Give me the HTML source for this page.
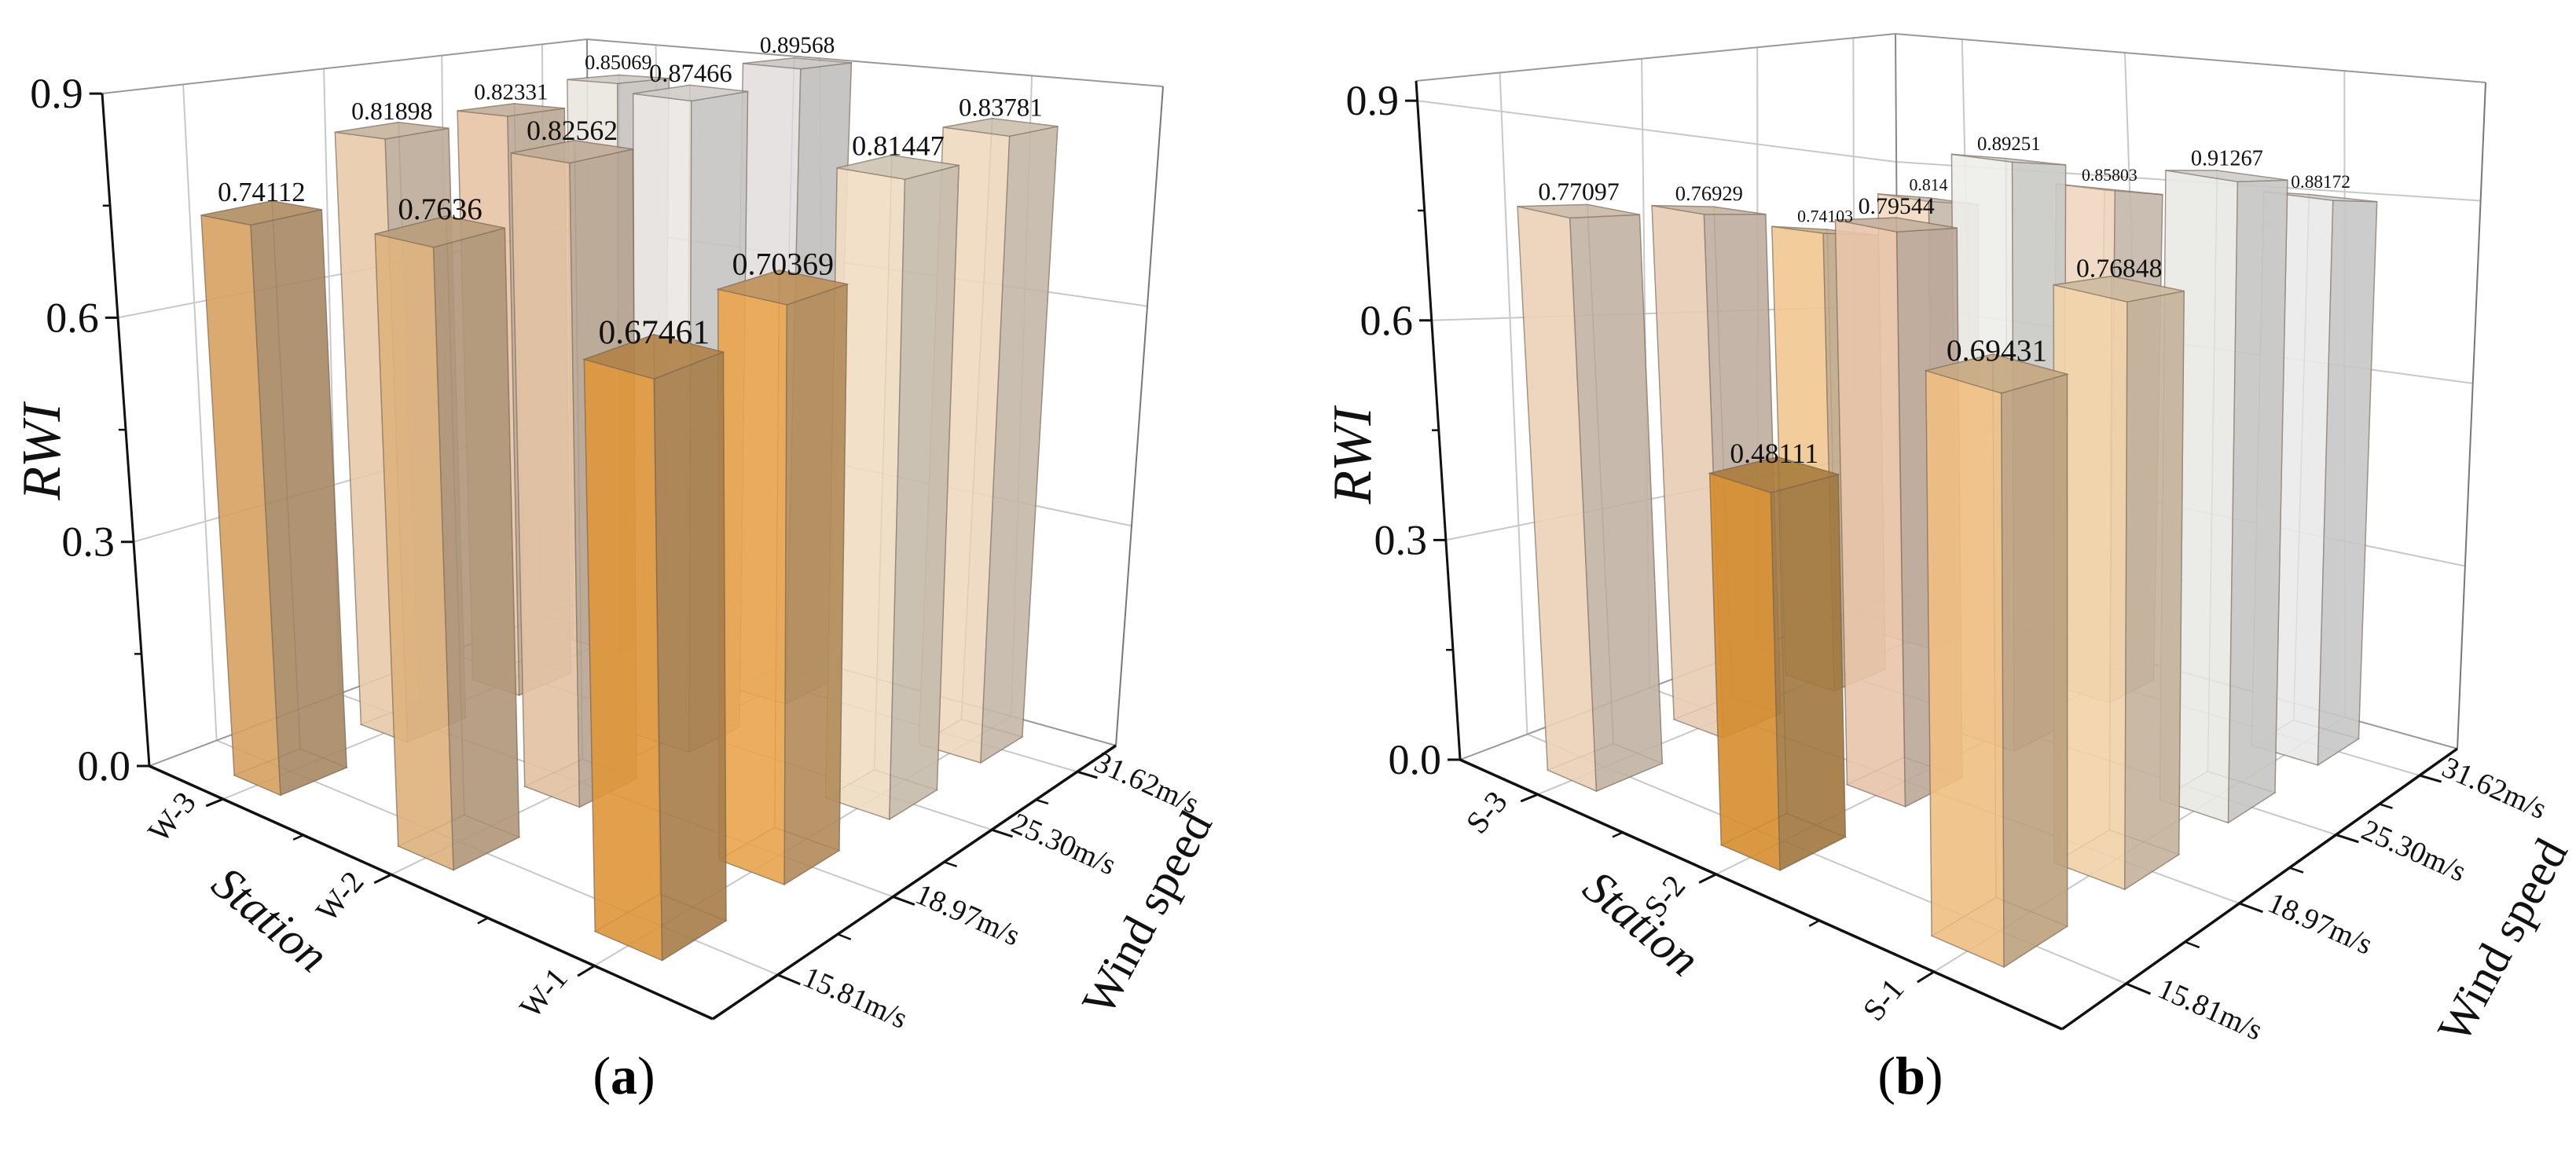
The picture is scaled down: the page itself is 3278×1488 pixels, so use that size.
<!DOCTYPE html>
<html><head><meta charset="utf-8">
<style>
html,body{margin:0;padding:0;background:#fff;}
svg{display:block;font-family:"Liberation Serif",serif;}
</style></head>
<body>
<svg id="fig" width="3278" height="1488" viewBox="0 0 3278 1488" xmlns="http://www.w3.org/2000/svg">
<rect x="0" y="0" width="3278" height="1488" fill="#fff"/>
<g id="chartA"></g>
<g id="chartB"></g>
<text x="794" y="1392" font-size="68" text-anchor="middle">(<tspan font-weight="bold">a</tspan>)</text>
<text x="2431" y="1392" font-size="68" text-anchor="middle">(<tspan font-weight="bold">b</tspan>)</text>
</svg>
<script>
// ---- data ----
const windSpeeds = ['15.81m/s','18.97m/s','25.30m/s','31.62m/s'];
const stationsA = ['W-3','W-2','W-1'];
const stationsB = ['S-3','S-2','S-1'];
const yTicks = [0.0,0.3,0.6,0.9];
const yTickLabels = ['0.0','0.3','0.6','0.9'];
// RWI values, one array per station, ordered by wind speed
const rwiW3 = [0.74112,0.81898,0.82331,0.85069];
const rwiW2 = [0.7636,0.82562,0.87466,0.89568];
const rwiW1 = [0.67461,0.70369,0.81447,0.83781];
const rwiS3 = [0.77097,0.76929,0.74103,0.814];
const rwiS2 = [0.48111,0.79544,0.89251,0.85803];
const rwiS1 = [0.69431,0.76848,0.91267,0.88172];
const labelsW3 = ['0.74112','0.81898','0.82331','0.85069'];
const labelsW2 = ['0.7636','0.82562','0.87466','0.89568'];
const labelsW1 = ['0.67461','0.70369','0.81447','0.83781'];
const labelsS3 = ['0.77097','0.76929','0.74103','0.814'];
const labelsS2 = ['0.48111','0.79544','0.89251','0.85803'];
const labelsS1 = ['0.69431','0.76848','0.91267','0.88172'];

// ---- styles (colours per bar) ----
const colA = [
  ['#d9a262','#e9cbac','#e8c6a6','#ece6e0'],
  ['#dfb37e','#e4c3a3','#ebe8e4','#e4e0e0'],
  ['#e0973a','#eca64e','#f1dec3','#f0d9bf']];
const colB = [
  ['#eed3b8','#e9cdb4','#f2c991','#f0dac3'],
  ['#d98f2e','#e9c6ab','#eeeeea','#f0d7c1'],
  ['#f1c083','#f4d4aa','#eaece7','#ecebec']];

const NS='http://www.w3.org/2000/svg';
function mk(tag, attrs, parent){const e=document.createElementNS(NS,tag);for(const k in attrs)e.setAttribute(k,attrs[k]);parent.appendChild(e);return e;}

function homography(q){ // q: [L(0,0),F(1,0),R(1,1),B(0,1)]
  const [x0,y0]=q[0],[x1,y1]=q[1],[x2,y2]=q[2],[x3,y3]=q[3];
  const dx1=x1-x2,dx2=x3-x2,dx3=x0-x1+x2-x3,dy1=y1-y2,dy2=y3-y2,dy3=y0-y1+y2-y3;
  const det=dx1*dy2-dx2*dy1;
  const g=(dx3*dy2-dx2*dy3)/det,h=(dx1*dy3-dx3*dy1)/det;
  const a=x1-x0+g*x1,b=x3-x0+h*x3,c=x0,d=y1-y0+g*y1,e=y3-y0+h*y3,f=y0;
  return (u,v)=>{const w=g*u+h*v+1;return [(a*u+b*v+c)/w,(d*u+e*v+f)/w];};
}
function shade(hex,k,gray){const n=parseInt(hex.slice(1),16);let r=n>>16,g=(n>>8)&255,b=n&255;
  const m=(r+g+b)/3;r=r*(1-gray)+m*gray;g=g*(1-gray)+m*gray;b=b*(1-gray)+m*gray;
  return 'rgb('+Math.round(r*k)+','+Math.round(g*k)+','+Math.round(b*k)+')';}

function drawChart(root, cfg){
  const H0=homography(cfg.floor), HB=homography(cfg.box);
  const V=cfg.up; // per-unit height vectors at L,F,R,B
  const upv=(s,w)=>{const a=(1-s)*(1-w),b=s*(1-w),c=s*w,d=(1-s)*w;
    return [a*V[0][0]+b*V[1][0]+c*V[2][0]+d*V[3][0], a*V[0][1]+b*V[1][1]+c*V[2][1]+d*V[3][1]];};
  const P=(s,w,z)=>{const a=H0(s,w),u=upv(s,w);return [a[0]+u[0]*z,a[1]+u[1]*z];};
  const PB=(s,w)=>HB(s,w);
  const pts=arr=>arr.map(p=>p[0].toFixed(1)+','+p[1].toFixed(1)).join(' ');
  const line=(a,b,st,sw,name)=>{const l=mk('line',{x1:a[0],y1:a[1],x2:b[0],y2:b[1],stroke:st,'stroke-width':sw},root);
    return l;};
  const nS=cfg.stations.length,nW=windSpeeds.length;
  const sC=i=>(i+0.5)/nS, wC=j=>(j+0.5)/nW;
  const grid='#c8c8c8';
  for(let j=0;j<nW;j++){ line(P(0,wC(j),0),P(1,wC(j),0),grid,2,'floor-grid-wind'); line(P(0,wC(j),0),PB(0,wC(j)),grid,2,'wall-grid-wind'); }
  for(let i=0;i<nS;i++){ line(P(sC(i),0,0),P(sC(i),1,0),grid,2,'floor-grid-station'); line(P(sC(i),1,0),PB(sC(i),1),grid,2,'wall-grid-station'); }
  for(const z of yTicks.slice(1)){ if(z<cfg.boxZ-0.001){ line(P(0,0,z),P(0,1,z),grid,2,'wall-grid-rwi'); line(P(0,1,z),P(1,1,z),grid,2,'wall-grid-rwi'); } }
  line(P(0,0,0),P(0,1,0),'#999',2,'floor-edge'); line(P(0,1,0),P(1,1,0),'#999',2,'floor-edge');
  line(P(0,1,0),PB(0,1),'#888',2,'box-edge-back'); line(P(1,1,0),PB(1,1),'#777',2,'box-edge-right');
  line(PB(0,0),PB(0,1),'#999',2,'box-edge-top'); line(PB(0,1),PB(1,1),'#999',2,'box-edge-top');
  const order=[];
  for(let i=0;i<nS;i++)for(let j=0;j<nW;j++)order.push([i,j]);
  order.sort((a,b)=>(b[1]-b[0])-(a[1]-a[0]) || (b[1]-a[1]));
  const hs=0.05,hw=0.063;
  const labels=[];
  for(const [i,j] of order){
    const v=cfg.values[i][j],c=cfg.colors[i][j];
    const s0=sC(i)-hs,s1=sC(i)+hs,w0=wC(j)-hw,w1=wC(j)+hw;
    const g=mk('g',{},root);
    
    
    const edge='rgba(110,95,80,0.45)';
    const face=(arr,fill,op)=>mk('polygon',{points:pts(arr),fill:fill,'fill-opacity':op,stroke:edge,'stroke-width':1.5},g);
    face([P(s0,w1,0),P(s1,w1,0),P(s1,w1,v),P(s0,w1,v)],shade(c,0.9,0.2),0.5);
    face([P(s0,w0,0),P(s0,w1,0),P(s0,w1,v),P(s0,w0,v)],shade(c,0.95,0.1),0.5);
    face([P(s0,w0,0),P(s1,w0,0),P(s1,w1,0),P(s0,w1,0)],shade(c,0.9,0.2),0.5);
    face([P(s0,w0,0),P(s1,w0,0),P(s1,w0,v),P(s0,w0,v)],c,0.82);
    face([P(s1,w0,0),P(s1,w1,0),P(s1,w1,v),P(s1,w0,v)],shade(c,0.84,0.35),0.82);
    face([P(s0,w0,v),P(s1,w0,v),P(s1,w1,v),P(s0,w1,v)],shade(c,0.88,0.3),0.85);
    const top=P(sC(i),wC(j),v);
    const sc=Math.min(1.25,Math.max(0.8,-upv(sC(i),wC(j))[1]/950));
    labels.push([top,sc,cfg.labels[i][j]]);
  }
  for(const [top,sc,txt] of labels){
    const t=mk('text',{x:top[0].toFixed(1),y:(top[1]-14*sc).toFixed(1),'font-size':(34*sc*sc).toFixed(1),'text-anchor':'middle',fill:'#111'},root);
    t.textContent=txt;
  }
  line(P(0,0,0),PB(0,0),'#111',3,'y-axis-line');
  line(P(0,0,0),P(1,0,0),'#111',3.5,'station-axis-line');
  line(P(1,0,0),P(1,1,0),'#111',3.5,'wind-axis-line');
  for(let k=0;k<yTicks.length;k++){
    const p=P(0,0,yTicks[k]);
    line(p,[p[0]-16,p[1]],'#111',3,'y-tick');
    const t=mk('text',{x:(p[0]-24).toFixed(1),y:(p[1]+18).toFixed(1),'font-size':54,'text-anchor':'end',fill:'#111'},root);
    t.textContent=yTickLabels[k];
    if(k<yTicks.length-1){const m=P(0,0,yTicks[k]+0.15);line(m,[m[0]-9,m[1]],'#111',2.5,'y-minor-tick');}
  }
  for(let i=0;i<nS;i++){
    const a=P(sC(i),0,0),b=P(sC(i),-0.03,0);line(a,b,'#111',3,'station-tick');
    if(i>0){const m=P(i/nS,0,0),mb=P(i/nS,-0.018,0);line(m,mb,'#111',2.5,'station-minor-tick');}
    const lp=P(sC(i),-0.085,0);
    const t=mk('text',{x:lp[0].toFixed(1),y:lp[1].toFixed(1),'font-size':40,'text-anchor':'middle','dominant-baseline':'middle',transform:'rotate(-50 '+lp[0].toFixed(1)+' '+lp[1].toFixed(1)+')',fill:'#111'},root);
    t.textContent=cfg.stations[i];
  }
  for(let j=0;j<nW;j++){
    const a=P(1,wC(j),0),b=P(1.03,wC(j),0);line(a,b,'#111',3,'wind-tick');
    if(j>0){const m=P(1,j/nW,0),mb=P(1.018,j/nW,0);line(m,mb,'#111',2.5,'wind-minor-tick');}
    const lp=P(1.1,wC(j),0);
    const t=mk('text',{x:lp[0].toFixed(1),y:(lp[1]-8).toFixed(1),'font-size':38,'text-anchor':'middle','dominant-baseline':'middle',transform:'rotate(24 '+lp[0].toFixed(1)+' '+(lp[1]-8).toFixed(1)+')',fill:'#111'},root);
    t.textContent=windSpeeds[j];
  }
  const tt=(x,y,rot,txt,name,fs,style)=>{const t=mk('text',{x:x,y:y,'font-size':fs,'text-anchor':'middle','dominant-baseline':'middle','font-style':style,transform:'rotate('+rot+' '+x+' '+y+')',fill:'#111'},root);
    t.textContent=txt;};
  tt(cfg.rwiPos[0],cfg.rwiPos[1],-90,'RWI','y-axis-title',70,'italic');
  tt(cfg.stPos[0],cfg.stPos[1],40,'Station','station-axis-title',60,'italic');
  tt(cfg.wsPos[0],cfg.wsPos[1],-62,'Wind speed','wind-axis-title',60,'normal');
}

drawChart(document.getElementById('chartA'),{
  floor:[[190,975],[907,1297],[1420,949],[751,762]],
  up:[[-67,-951],[-14,-1130],[67,-932],[-4,-791]],
  box:[[130,119],[894,280],[1480,110],[747,50]],
  boxZ:0.9,
  stations:stationsA, values:[rwiW3,rwiW2,rwiW1], labels:[labelsW3,labelsW2,labelsW1], colors:colA,
  rwiPos:[60,575], stPos:[340,1175], wsPos:[1465,1165]
});
drawChart(document.getElementById('chartB'),{
  floor:[[1858,967],[2624,1310],[3127,953],[2417,755]],
  up:[[-60,-932],[0,-1090],[33,-775],[-5,-610]],
  box:[[1802,103],[2624,300],[3163,105],[2412,43]],
  boxZ:0.927,
  stations:stationsB, values:[rwiS3,rwiS2,rwiS1], labels:[labelsS3,labelsS2,labelsS1], colors:colB,
  rwiPos:[1728,580], stPos:[2085,1180], wsPos:[3190,1200]
});
</script>
</body></html>
